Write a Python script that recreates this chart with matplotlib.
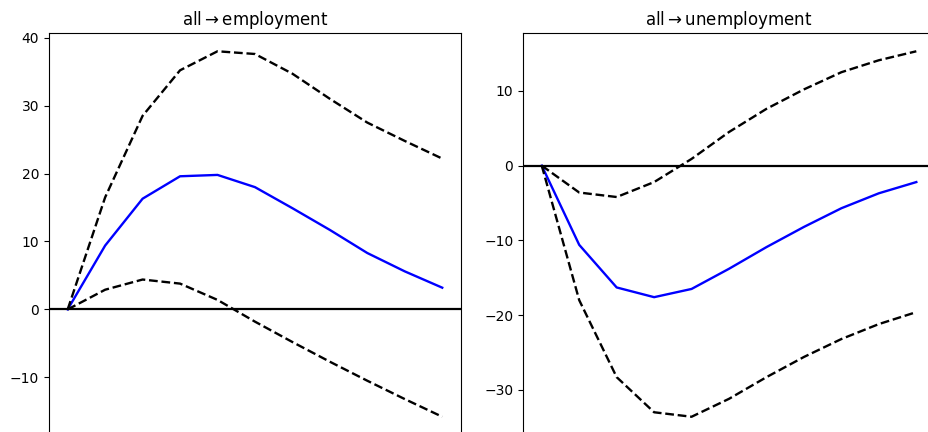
import matplotlib
matplotlib.use('Agg')
import matplotlib.pyplot as plt
import numpy as np

# impulse responses, horizons 0..10
horizon = np.arange(11)

emp_irf = [0, 9.4, 16.3, 19.6, 19.8, 18.0, 14.9, 11.7, 8.3, 5.6, 3.2]
emp_upper = [0, 16.5, 28.5, 35.2, 38.0, 37.6, 34.7, 31.0, 27.5, 24.8, 22.2]
emp_lower = [0, 2.9, 4.4, 3.8, 1.4, -1.8, -4.8, -7.7, -10.5, -13.2, -15.8]

unemp_irf = [0, -10.6, -16.3, -17.6, -16.5, -13.8, -10.9, -8.2, -5.7, -3.7, -2.2]
unemp_upper = [0, -3.6, -4.2, -2.2, 0.9, 4.5, 7.6, 10.2, 12.5, 14.1, 15.3]
unemp_lower = [0, -18.0, -28.3, -33.0, -33.6, -31.2, -28.3, -25.6, -23.2, -21.2, -19.6]

titles = [r'all$\rightarrow$employment', r'all$\rightarrow$unemployment']
panels = [(emp_irf, emp_upper, emp_lower), (unemp_irf, unemp_upper, unemp_lower)]

fig = plt.figure(figsize=(9.29, 4.32), dpi=100)
# the original figure is cropped at the bottom, so the axes run past the edge
ax1 = fig.add_axes([0.0527, -0.007, 0.4435, 0.9306])
ax2 = fig.add_axes([0.563, -0.007, 0.4435, 0.9306])

for ax, title, (irf, up, lo) in zip([ax1, ax2], titles, panels):
    ax.plot(horizon, irf, color='blue', lw=1.7)
    ax.plot(horizon, up, 'k--', lw=1.7)
    ax.plot(horizon, lo, 'k--', lw=1.7)
    ax.axhline(0, color='black', lw=1.6)
    ax.set_title(title, fontsize=12)
    ax.tick_params(labelsize=10)
    ax.tick_params(axis='x', labelbottom=False)  # cropped away in the reference

ax1.set_yticks([-10, 0, 10, 20, 30, 40])
ax2.set_yticks([-30, -20, -10, 0, 10])

fig.savefig('out.png', dpi=100)
